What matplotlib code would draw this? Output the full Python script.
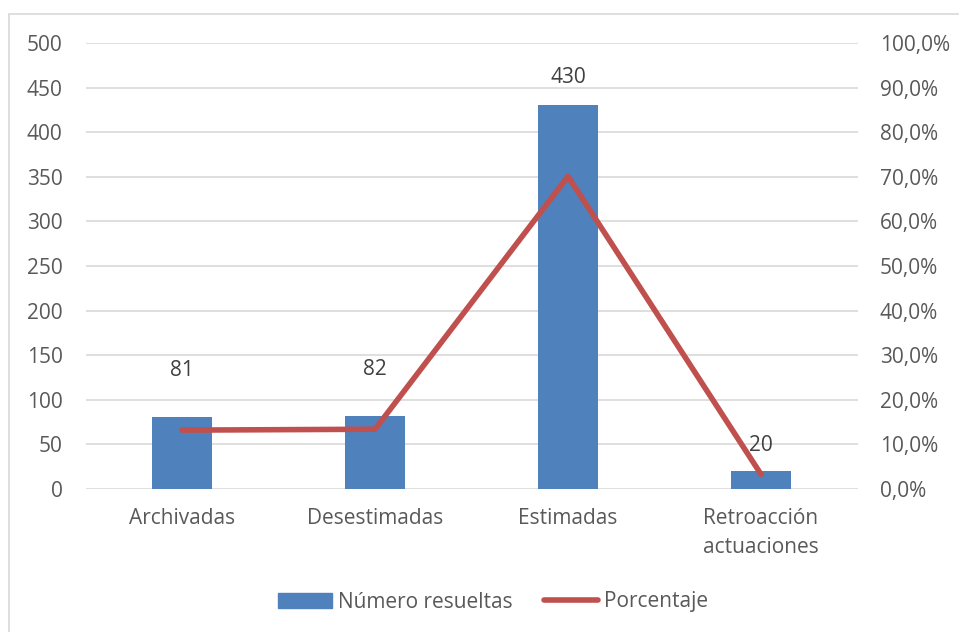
import matplotlib
matplotlib.use("Agg")
import matplotlib.pyplot as plt
from matplotlib.patches import Rectangle
from matplotlib.lines import Line2D
from matplotlib.ticker import FuncFormatter, MultipleLocator

categorias = ["Archivadas", "Desestimadas", "Estimadas", "Retroacción\nactuaciones"]
numero_resueltas = [81, 82, 430, 20]
porcentaje = [13.2, 13.4, 70.1, 3.3]

azul = "#4F81BD"
rojo = "#C0504D"
gris_texto = "#595959"
gris_rejilla = "#D9D9D9"

plt.rcParams["font.family"] = ["Open Sans", "DejaVu Sans"]
plt.rcParams["font.size"] = 15

fig = plt.figure(figsize=(9.59, 6.32), dpi=100)
W, H = 959, 632

# marco del gráfico
fig.patches.append(Rectangle((9 / W, -0.1), 1.2, 1 - 14 / H + 0.1, transform=fig.transFigure,
                             fill=False, edgecolor=gris_rejilla, linewidth=1.2))

ax = fig.add_axes([85.5 / W, 1 - 489 / H, 772 / W, 446 / H])
x = list(range(len(categorias)))

barras = ax.bar(x, numero_resueltas, width=0.31, color=azul, zorder=2)
ax.set_xlim(-0.5, len(categorias) - 0.5)
ax.set_ylim(0, 500)
ax.yaxis.set_major_locator(MultipleLocator(50))
ax.grid(axis="y", color=gris_rejilla, linewidth=1.2, zorder=0)
ax.set_axisbelow(True)
for s in ax.spines.values():
    s.set_visible(False)
ax.tick_params(axis="y", length=0, pad=16.5, colors=gris_texto)
ax.tick_params(axis="x", length=0, pad=14, colors=gris_texto)
ax.set_xticks(x)
ax.set_xticklabels(categorias, linespacing=1.45)

# etiquetas de valor sobre las barras
desplaz = [46, 46, 28, 26]
for xi, v, d in zip(x, numero_resueltas, desplaz):
    ax.annotate(str(v), (xi, v), xytext=(0, d), textcoords="offset pixels",
                ha="center", va="center", color="#404040", zorder=5)

ax2 = ax.twinx()
ax2.plot(x, porcentaje, color=rojo, linewidth=4, solid_capstyle="round", zorder=3)
ax2.set_ylim(0, 100)
ax2.yaxis.set_major_locator(MultipleLocator(10))
ax2.yaxis.set_major_formatter(FuncFormatter(lambda v, p: f"{v:.1f}%".replace(".", ",")))
ax2.tick_params(axis="y", length=0, pad=16, colors=gris_texto)
for s in ax2.spines.values():
    s.set_visible(False)

handles = [Rectangle((0, 0), 1, 1, color=azul), Line2D([], [], color=rojo, linewidth=4, solid_capstyle="round")]
fig.legend(handles, ["Número resueltas", "Porcentaje"], loc="center", bbox_to_anchor=(493 / W, 1 - 602 / H),
           ncol=2, frameon=False, labelcolor=gris_texto, handlelength=2.6, handletextpad=0.3,
           columnspacing=1.5, handleheight=0.75)

fig.savefig("out.png", dpi=100)
